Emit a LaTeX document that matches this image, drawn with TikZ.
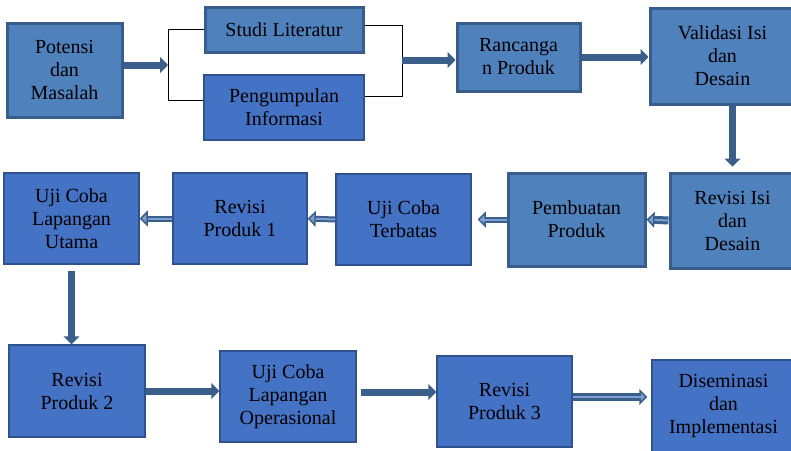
\documentclass[tikz,border=0pt]{standalone}
\usepackage{fontspec}
\setmainfont{Liberation Serif}
\usetikzlibrary{arrows.meta}

\definecolor{steelfill}{HTML}{4F81BD}
\definecolor{brightfill}{HTML}{4472C4}
\definecolor{steeledge}{HTML}{385D8A}
\definecolor{brightedge}{HTML}{2F528F}
\definecolor{arrowblue}{HTML}{3A5F8B}
\definecolor{arrowlight}{HTML}{7F9FD0}

\begin{document}
\begin{tikzpicture}
[
	x=1pt,y=-1pt,
	box/.style={rectangle,align=center,inner sep=2pt,font=\fontsize{20}{23}\selectfont},
	steelbox/.style={box,fill=steelfill,draw=steeledge,line width=3pt},
	brightbox/.style={box,fill=brightfill,draw=brightedge,line width=1.5pt},
	bigarrow/.style={draw=arrowblue,line width=7pt,-{Triangle[length=8pt,width=16pt]}},
	hollowarrow/.style={draw=arrowblue,line width=#1,-{Triangle[length=8pt,width=16pt,fill=arrowlight,line width=1.5pt]},
		postaction={draw=arrowlight,line width=2pt,-,shorten >=8pt}},
	bracket/.style={draw=black,line width=0.8pt}
]

	\useasboundingbox (0,0) rectangle (791,450);

	% first row
	\node[steelbox,minimum width=115pt,minimum height=94pt] (potensi) at (64.5,70) {Potensi\\dan\\Masalah};
	\node[steelbox,minimum width=158pt,minimum height=45pt] (studi) at (284,29.5) {Studi Literatur};
	\node[brightbox,minimum width=160pt,minimum height=65pt] (pengumpulan) at (284,107.5) {Pengumpulan\\Informasi};
	\node[steelbox,minimum width=123pt,minimum height=68pt] (rancangan) at (518.5,57) {Rancanga\\n Produk};
	\node[steelbox,minimum width=145pt,minimum height=96pt] (validasi) at (722.5,56) {Validasi Isi\\dan\\Desain};

	% second row
	\node[steelbox,minimum width=125pt,minimum height=95pt] (revisiisi) at (732.5,220.5) {Revisi Isi\\dan\\Desain};
	\node[steelbox,minimum width=137pt,minimum height=93pt] (pembuatan) at (576.5,219.5) {Pembuatan\\Produk};
	\node[brightbox,minimum width=135pt,minimum height=91pt] (terbatas) at (403.5,219.5) {Uji Coba\\Terbatas};
	\node[brightbox,minimum width=134pt,minimum height=91pt] (produk1) at (240,218.5) {Revisi\\Produk 1};
	\node[brightbox,minimum width=135pt,minimum height=91pt] (utama) at (71.5,218.5) {Uji Coba\\Lapangan\\Utama};

	% third row
	\node[brightbox,minimum width=136pt,minimum height=92pt] (produk2) at (77,391) {Revisi\\Produk 2};
	\node[brightbox,minimum width=136pt,minimum height=91pt] (operasional) at (288,396.5) {Uji Coba\\Lapangan\\Operasional};
	\node[brightbox,minimum width=135pt,minimum height=91pt] (produk3) at (504.5,401.5) {Revisi\\Produk 3};
	\node[brightbox,minimum width=143pt,minimum height=92pt] (diseminasi) at (723.5,406) {Diseminasi\\dan\\Implementasi};

	% bracket
	\coordinate (bltop) at (168,29);
	\coordinate (blbot) at (168,100);
	\coordinate (bl) at (168,65);
	\coordinate (brtop) at (402,25);
	\coordinate (brbot) at (402,96);
	\coordinate (br) at (402,60);
	\draw[bracket] (studi.west |- bltop) -- (bltop) -- (blbot) -- (pengumpulan.west |- blbot);
	\draw[bracket] (studi.east |- brtop) -- (brtop) -- (brbot) -- (pengumpulan.east |- brbot);

	% arrows
	\draw[bigarrow] (potensi.east |- bl) -- (bl);
	\draw[bigarrow] (br) -- (rancangan.west |- br);
	\draw[bigarrow] (rancangan.east) -- (validasi.west |- rancangan.east);
	\draw[bigarrow,shorten >=5pt] (validasi.south -| revisiisi) -- (revisiisi.north);
	\draw[hollowarrow=8pt] (revisiisi.west) -- (pembuatan.east);
	\draw[hollowarrow=6pt,shorten >=6pt] (pembuatan.west) -- (terbatas.east);
	\draw[hollowarrow=6pt] (terbatas.west) -- (produk1.east);
	\draw[hollowarrow=6pt] (produk1.west) -- (utama.east);
	\draw[bigarrow,shorten <=6pt] (utama.south) -- (utama.south |- produk2.north);
	\draw[bigarrow] (produk2.east) -- (produk2.east -| operasional.west);
	\draw[bigarrow,shorten <=4pt] (operasional.east |- 0,392) -- (produk3.west |- 0,392);
	\draw[hollowarrow=8pt,shorten >=4pt] (produk3.east |- 0,397) -- (diseminasi.west |- 0,397);

\end{tikzpicture}
\end{document}
